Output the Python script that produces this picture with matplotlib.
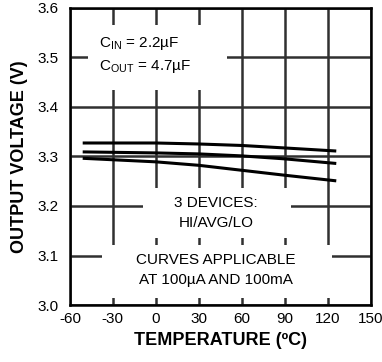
import numpy as np
import matplotlib
matplotlib.use("Agg")
import matplotlib.pyplot as plt
from matplotlib.patches import Rectangle

plt.rcParams["font.family"] = ["Liberation Sans", "DejaVu Sans"]
plt.rcParams["mathtext.fontset"] = "custom"
plt.rcParams["mathtext.rm"] = "Liberation Sans"
plt.rcParams["axes.unicode_minus"] = False

# -------------------------------------------------------------------
# Data
# -------------------------------------------------------------------
temps = [-50, 0, 30, 60, 90, 125]
v_hi = [3.327, 3.327, 3.325, 3.322, 3.317, 3.311]
v_avg = [3.309, 3.307, 3.305, 3.301, 3.295, 3.286]
v_lo = [3.296, 3.289, 3.282, 3.272, 3.262, 3.251]

x_ticks = [-60, -30, 0, 30, 60, 90, 120, 150]
y_ticks = [3.0, 3.1, 3.2, 3.3, 3.4, 3.5, 3.6]

# -------------------------------------------------------------------
# Plot
# -------------------------------------------------------------------
fig = plt.figure(figsize=(3.82, 3.62), dpi=100)
ax = fig.add_axes([0.183, 0.157, 0.787, 0.822])

ax.set_xlim(-60, 150)
ax.set_ylim(3.0, 3.6)
ax.set_xticks(x_ticks)
ax.set_yticks(y_ticks)
ax.set_yticklabels([f"{v:.1f}" for v in y_ticks])
ax.tick_params(length=0, labelsize=11)
ax.tick_params(axis="y", pad=8)
ax.tick_params(axis="x", pad=5)

ax.grid(True, color="#303030", linewidth=1.8, zorder=1)
ax.set_axisbelow(True)

for series in (v_hi, v_avg, v_lo):
    ax.plot(temps, series, color="black", linewidth=2.2, zorder=4)

# white boxes behind the notes (break the grid like the datasheet)
for x0, y0, x1, y1 in [(-47.5, 3.434, 49.9, 3.565),
                       (-9.2, 3.135, 94.4, 3.236),
                       (-37.7, 3.014, 122.9, 3.121)]:
    ax.add_patch(Rectangle((x0, y0), x1 - x0, y1 - y0, facecolor="white",
                           edgecolor="none", zorder=2))

ax.text(-40, 3.528, r"C$_{\mathrm{IN}}$ = 2.2µF", fontsize=11,
        va="center", ha="left", zorder=5)
ax.text(-40, 3.482, r"C$_{\mathrm{OUT}}$ = 4.7µF", fontsize=11,
        va="center", ha="left", zorder=5)
ax.text(42, 3.206, "3 DEVICES:", fontsize=11, ha="center", va="center", zorder=5)
ax.text(42, 3.165, "HI/AVG/LO", fontsize=11, ha="center", va="center", zorder=5)
ax.text(42, 3.092, "CURVES APPLICABLE", fontsize=11, ha="center", va="center", zorder=5)
ax.text(42, 3.050, "AT 100µA AND 100mA", fontsize=11, ha="center", va="center", zorder=5)

for side in ("left", "right", "top", "bottom"):
    ax.spines[side].set_linewidth(1.8)
    ax.spines[side].set_zorder(6)

ax.set_xlabel("TEMPERATURE (ºC)", fontsize=13, fontweight="bold", labelpad=4)
ax.set_ylabel("OUTPUT VOLTAGE (V)", fontsize=13, fontweight="bold", labelpad=7)

fig.savefig("out.png", dpi=100)
